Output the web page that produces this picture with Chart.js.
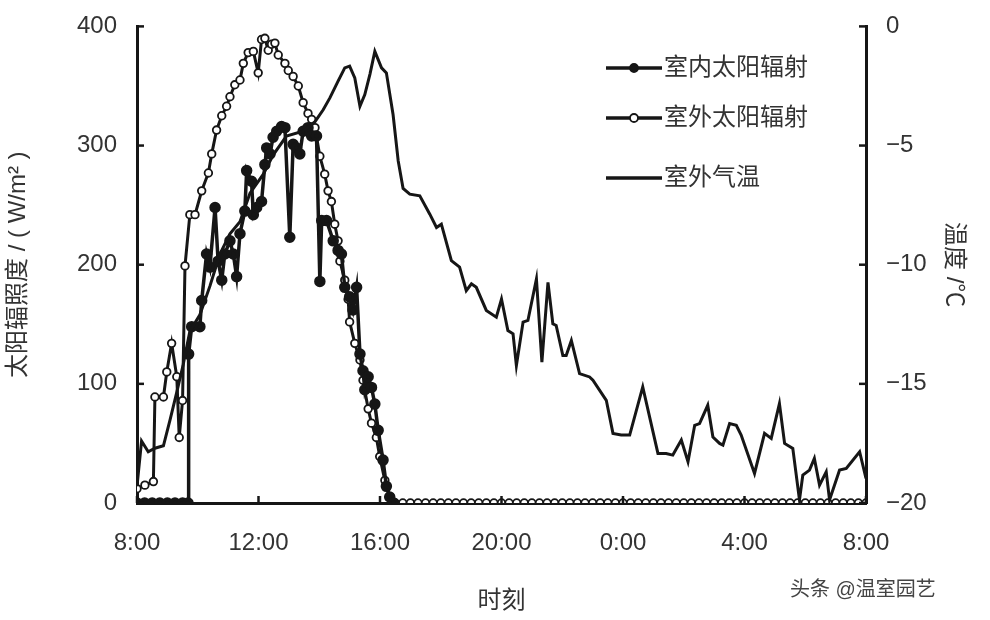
<!DOCTYPE html>
<html><head><meta charset="utf-8">
<script src="https://cdn.jsdelivr.net/npm/chart.js@4"></script>
<style>html,body{margin:0;padding:0;background:#fff}#w{width:990px;height:620px}</style>
</head><body><div id="w"><canvas id="c"></canvas></div>
<script>
const xTickLabels = ['8:00','12:00','16:00','20:00','0:00','4:00','8:00'];
const leftTicks = [0,100,200,300,400];
const rightTicks = [0,-5,-10,-15,-20];
const seriesNames = ['室内太阳辐射','室外太阳辐射','室外气温'];

const outTimes = [8.0,8.26,8.54,8.59,8.87,8.98,9.14,9.31,9.39,9.5,9.58,9.74,9.91,10.13,10.35,10.46,10.62,10.79,10.95,11.06,11.22,11.39,11.5,11.66,11.83,11.99,12.1,12.21,12.32,12.43,12.54,12.65,12.87,12.98,13.14,13.31,13.47,13.63,13.75,13.86,14.02,14.18,14.29,14.4,14.51,14.62,14.68,14.84,14.95,15.0,15.17,15.34,15.44,15.61,15.72,15.88,15.99,16.16,16.32,
16.5,16.75,17,17.25,17.5,17.75,18,18.25,18.5,18.75,19,19.25,19.5,19.75,20,20.25,20.5,20.75,21,21.25,21.5,21.75,22,22.25,22.5,22.75,23,23.25,23.5,23.75,24,24.25,24.5,24.75,25,25.25,25.5,25.75,26,26.25,26.5,26.75,27,27.25,27.5,27.75,28,28.25,28.5,28.75,29,29.25,29.5,29.75,30,30.25,30.5,30.75,31,31.25,31.5,31.75,32];
const outValues = [12,15,18,89,89,110,134,106,55,86,199,242,242,262,277,293,313,325,333,341,351,355,369,378,379,361,389,390,380,385,386,376,369,363,358,350,336,327,322,315,291,276,262,253,234,220,203,187,171,152,134,120,103,79,67,55,39,19,5,
0,0,0,0,0,0,0,0,0,0,0,0,0,0,0,0,0,0,0,0,0,0,0,0,0,0,0,0,0,0,0,0,0,0,0,0,0,0,0,0,0,0,0,0,0,0,0,0,0,0,0,0,0,0,0,0,0,0,0,0,0,0,0];

const inTimes = [8.0,8.25,8.5,8.75,9.0,9.25,9.5,9.68,9.7,9.8,10.07,10.13,10.29,10.4,10.57,10.67,10.79,10.89,11.06,11.17,11.28,11.39,11.55,11.61,11.77,11.83,11.94,12.1,12.21,12.27,12.38,12.48,12.6,12.76,12.87,13.03,13.14,13.25,13.36,13.47,13.63,13.75,13.91,14.02,14.08,14.24,14.46,14.62,14.73,14.84,15.0,15.11,15.23,15.34,15.44,15.5,15.61,15.72,15.83,15.94,16.1,16.21,16.32,16.45];
const inValues = [0,0,0,0,0,0,0,0,125,148,148,170,209,198,248,203,187,209,220,209,190,226,245,279,270,242,248,253,284,298,293,307,312,316,315,223,301,298,293,312,315,308,308,186,237,237,220,212,209,181,173,162,181,125,111,95,106,97,83,61,36,14,5,0];

const tempTimes = [8.0,8.15,8.37,8.59,8.87,9.09,9.3,9.52,9.74,10.07,10.4,10.73,11.06,11.39,11.72,12.16,12.48,12.92,13.47,13.86,14.13,14.35,14.62,14.84,15.0,15.17,15.34,15.5,15.67,15.83,16.05,16.21,16.43,16.6,16.76,16.98,17.31,17.64,17.86,18.02,18.35,18.62,18.84,19.01,19.17,19.5,19.83,20.0,20.21,20.38,20.49,20.71,20.87,21.15,21.33,21.53,21.69,21.8,22.02,22.13,22.3,22.57,22.9,23.01,23.45,23.67,23.94,24.22,24.65,25.15,25.42,25.64,25.92,26.14,26.36,26.52,26.79,26.96,27.18,27.29,27.51,27.73,27.89,28.33,28.66,28.88,29.15,29.32,29.59,29.81,29.92,30.14,30.3,30.47,30.69,30.8,31.13,31.35,31.79,32];
const tempValues = [-19.3,-17.4,-17.85,-17.7,-17.6,-16.5,-15.4,-14.2,-12.8,-12.1,-10.9,-9.55,-8.7,-8.2,-7.0,-6.2,-5.4,-4.6,-4.4,-4.0,-3.5,-3.0,-2.3,-1.74,-1.67,-2.16,-3.35,-2.86,-2.0,-1.05,-1.74,-1.95,-3.7,-5.65,-6.8,-7.04,-7.11,-7.88,-8.44,-8.3,-9.83,-10.1,-11.09,-10.8,-10.95,-11.92,-12.2,-11.44,-12.76,-12.9,-14.23,-12.41,-12.34,-10.6,-14.09,-10.74,-12.48,-12.55,-13.81,-13.81,-13.18,-14.57,-14.71,-14.85,-15.69,-17.08,-17.15,-17.15,-15.13,-17.92,-17.92,-17.99,-17.36,-18.27,-16.74,-16.67,-15.9,-17.23,-17.5,-17.57,-16.67,-16.74,-17.15,-18.76,-17.08,-17.29,-15.83,-17.5,-17.71,-19.87,-18.83,-18.62,-18.13,-19.25,-18.69,-19.87,-18.62,-18.55,-17.85,-18.97];

const pts = (t,v) => t.map((x,i)=>({x:x,y:v[i]}));
const INK = '#161616', TXT = '#333';
const FONT = '"Liberation Sans","Noto Sans CJK SC",sans-serif';

const inwardTicks = {
  id:'inward',
  afterDraw(chart){
    const c=chart.ctx, a=chart.chartArea, s=chart.scales;
    c.save(); c.strokeStyle=INK; c.lineWidth=2.5;
    leftTicks.forEach(v=>{const y=s.y.getPixelForValue(v);c.beginPath();c.moveTo(a.left,y);c.lineTo(a.left+7,y);c.stroke();});
    rightTicks.forEach(v=>{const y=s.y1.getPixelForValue(v);c.beginPath();c.moveTo(a.right,y);c.lineTo(a.right-7,y);c.stroke();});
    [8,12,16,20,24,28,32].forEach(v=>{const x=s.x.getPixelForValue(v);c.beginPath();c.moveTo(x,a.bottom);c.lineTo(x,a.bottom-7);c.stroke();});
    const ly=[68,118,178];
    c.font='24px '+FONT; c.textBaseline='middle';
    ly.forEach((y,i)=>{
      c.strokeStyle=INK; c.lineWidth=3.5;
      c.beginPath(); c.moveTo(606,y); c.lineTo(662,y); c.stroke();
      if(i<2){c.beginPath();c.arc(634,y,4,0,Math.PI*2);c.fillStyle=i==0?INK:'#fff';c.fill();c.lineWidth=1.8;c.stroke();}
      c.fillStyle=TXT; c.textAlign='left'; c.fillText(seriesNames[i],664,y);
    });
    c.font='20px '+FONT; c.fillStyle='#444'; c.fillText('头条 @温室园艺',790,590);
    c.restore();
  }
};

new Chart(document.getElementById('c'),{
  type:'scatter',
  data:{datasets:[
    {label:seriesNames[2],data:pts(tempTimes,tempValues),yAxisID:'y1',showLine:true,borderColor:INK,borderWidth:3,pointRadius:0,tension:0},
    {label:seriesNames[0],data:pts(inTimes,inValues),yAxisID:'y',showLine:true,borderColor:INK,borderWidth:3.5,pointRadius:4,pointBackgroundColor:INK,pointBorderColor:INK,tension:0},
    {label:seriesNames[1],data:pts(outTimes,outValues),yAxisID:'y',showLine:true,borderColor:INK,borderWidth:3,pointRadius:3.8,pointBackgroundColor:'#fff',pointBorderColor:INK,pointBorderWidth:1.8,tension:0}
  ]},
  options:{
    responsive:true,maintainAspectRatio:false,animation:false,
    layout:{padding:{top:25,left:0,right:0,bottom:0}},
    plugins:{legend:{display:false},tooltip:{enabled:false}},
    scales:{
      x:{type:'linear',min:8,max:32,
        afterBuildTicks:s=>{s.ticks=[8,12,16,20,24,28,32].map(v=>({value:v}));},
        afterFit:s=>{s.height=117;},
        ticks:{color:TXT,font:{size:24,family:FONT},padding:18,maxRotation:0,callback:(v)=>xTickLabels[(v-8)/4]},
        grid:{display:false},border:{display:true,color:INK,width:3},
        title:{display:true,text:'时刻',color:TXT,font:{size:24,family:FONT},padding:{top:14}}},
      y:{position:'left',min:0,max:400,
        afterBuildTicks:s=>{s.ticks=leftTicks.map(v=>({value:v}));},
        afterFit:s=>{s.width=137;},
        ticks:{color:TXT,font:{size:24,family:FONT},padding:12},
        grid:{display:false},border:{display:true,color:INK,width:3},
        title:{display:true,text:'太阳辐照度 / ( W/m² )',color:TXT,font:{size:24,family:FONT},padding:{bottom:6}}},
      y1:{position:'right',min:-20,max:0,
        afterBuildTicks:s=>{s.ticks=rightTicks.map(v=>({value:v}));},
        afterFit:s=>{s.width=124;},
        ticks:{color:TXT,font:{size:24,family:FONT},padding:12,callback:v=>v<0?'−'+Math.abs(v):String(v)},
        grid:{display:false},border:{display:true,color:INK,width:3},
        title:{display:true,text:'温度 /℃',color:TXT,font:{size:24,family:FONT},padding:{top:22}}}
    }
  },
  plugins:[inwardTicks]
});
</script></body></html>
